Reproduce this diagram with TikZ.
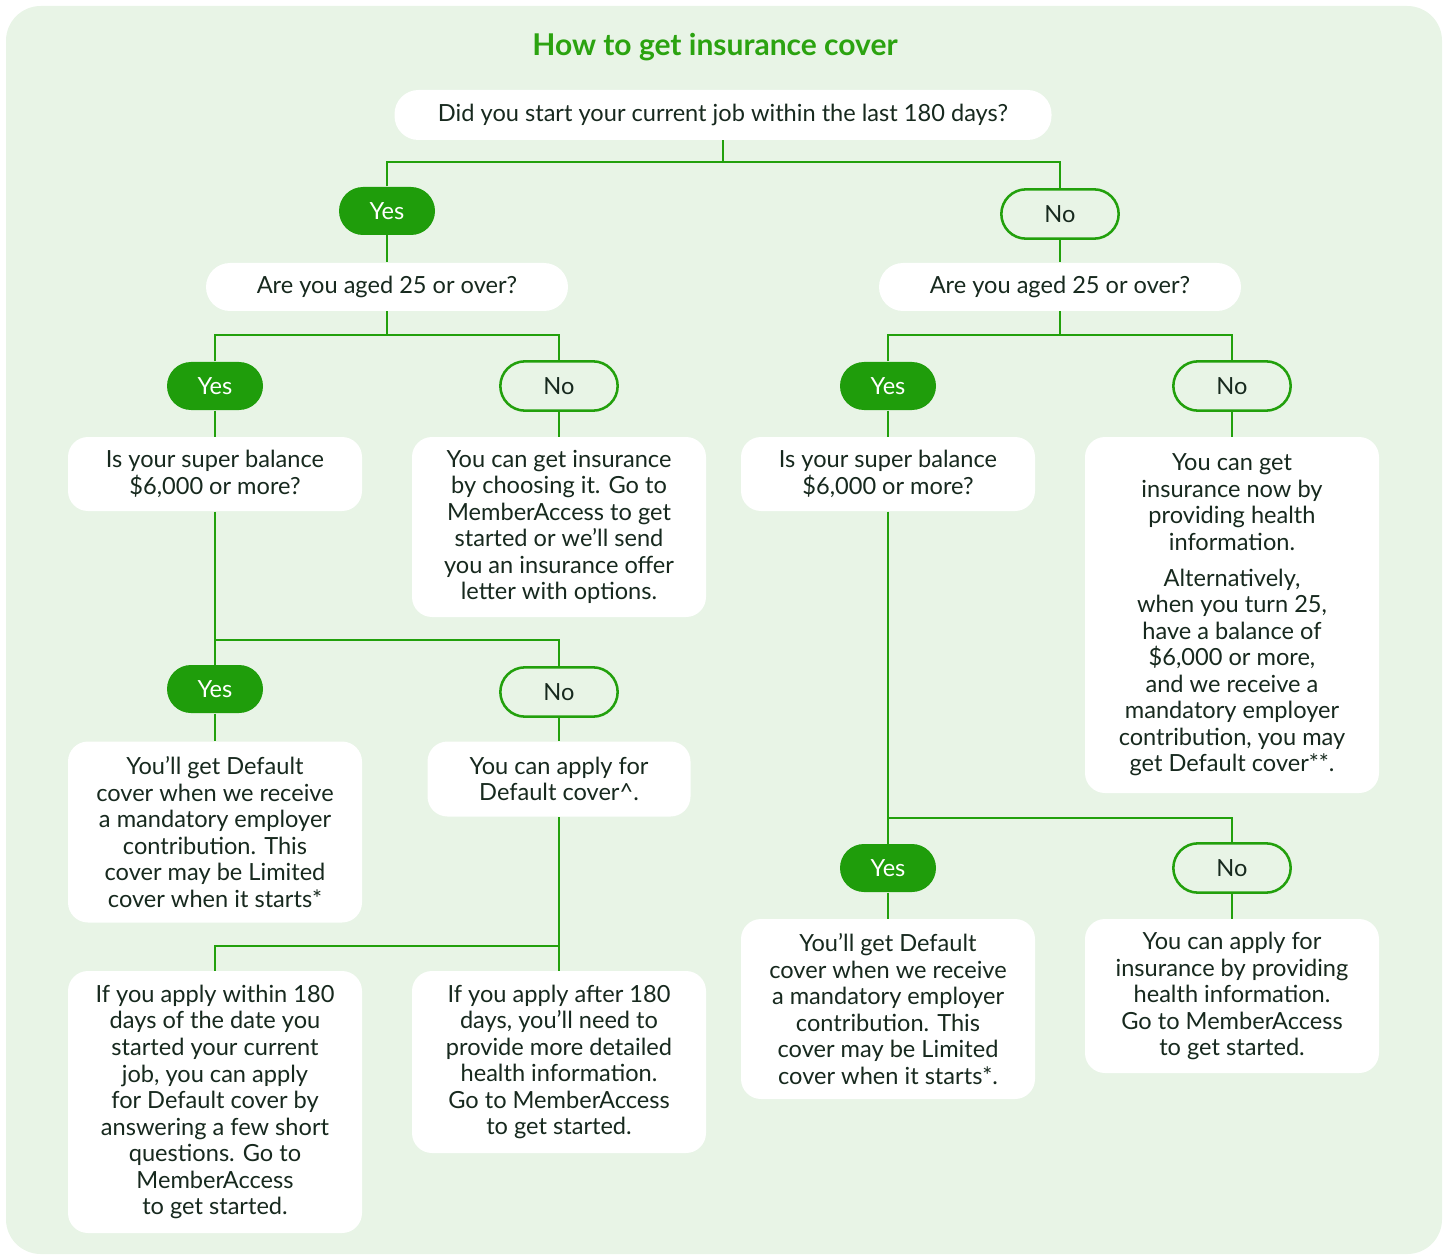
\documentclass[tikz,border=0pt]{standalone}
\usepackage{fontspec}
\setmainfont{Lato}
\definecolor{bggreen}{HTML}{E8F4E6}
\definecolor{linegreen}{HTML}{22A00C}
\definecolor{pillgreen}{HTML}{1F9D0B}
\definecolor{inkgreen}{HTML}{17291E}
\definecolor{titlegreen}{HTML}{2BA310}
\newcommand{\bodyfont}{\fontsize{17.7}{19.9}\selectfont}

\tikzset{every picture/.style={line width=0.75pt}}
\tikzset{
  card/.style={fill=white, rounded corners=15pt, align=center, inner sep=0pt, text=inkgreen, font=\bodyfont},
  askpill/.style={card, rounded corners=18pt, minimum height=36pt},
  yespill/.style={fill=pillgreen, text=white, rounded corners=18pt, minimum width=72pt, minimum height=36pt, inner sep=0pt, font=\bodyfont},
  nopill/.style={draw=linegreen, line width=1.9pt, fill=bggreen, text=inkgreen, rounded corners=18.5pt, minimum width=88pt, minimum height=37pt, inner sep=0pt, font=\bodyfont},
  link/.style={draw=linegreen, line width=1.7pt},
}

\begin{document}
\begin{tikzpicture}[x=0.75pt,y=0.75pt,yscale=-1,xscale=1]
\useasboundingbox (0,0) rectangle (1450,1255);

% background panel
\fill[bggreen, rounded corners=26pt] (6,6) rectangle (1442,1254);

% title
\node[font=\fontsize{22.5}{25}\selectfont\bfseries, text=titlegreen] (title) at (715,47) {How to get insurance cover};

% first question
\node[askpill, minimum width=492.75pt, minimum height=37.5pt] (q0) at (723,115) {Did you start your current job within the last 180 days?};
\node[yespill] (yes1) at (387,211) {Yes};
\node[nopill] (no1) at (1060,214) {No};

% age questions
\node[askpill, minimum width=271.5pt] (age1) at (387,287) {Are you aged 25 or over?};
\node[askpill, minimum width=271.5pt] (age2) at (1060,287) {Are you aged 25 or over?};

\node[yespill] (yes2) at (215,386) {Yes};
\node[nopill] (no2) at (559,386) {No};
\node[yespill] (yes4) at (888,386) {Yes};
\node[nopill] (no4) at (1232,386) {No};

% balance questions and under 25 answers
\node[card, minimum width=220.5pt, minimum height=55.5pt] (sup1) at (215,474) {Is your super balance\\\$6,000 or more?};
\node[card, minimum width=220.5pt, minimum height=135pt] (young1) at (559,527) {You can get insurance\\by choosing it. Go to\\MemberAccess to get\\started or we'll send\\you an insurance offer\\letter with options.};
\node[card, minimum width=220.5pt, minimum height=55.5pt] (sup2) at (888,474) {Is your super balance\\\$6,000 or more?};
\node[card, minimum width=220.5pt, minimum height=267pt] (young2) at (1232,615) {You can get\\insurance now by\\providing health\\information.\\[7pt]Alternatively,\\when you turn 25,\\have a balance of\\\$6,000 or more,\\and we receive a\\mandatory employer\\contribution, you may\\get Default cover**.};

\node[yespill] (yes3) at (215,689) {Yes};
\node[nopill] (no3) at (559,692) {No};
\node[yespill] (yes5) at (888,868) {Yes};
\node[nopill] (no5) at (1232,868) {No};

% outcomes
\node[card, minimum width=220.5pt, minimum height=135.75pt] (dflt1) at (215,832) {You'll get Default\\cover when we receive\\a mandatory employer\\contribution. This\\cover may be Limited\\cover when it starts*};
\node[card, minimum width=197.25pt, minimum height=56.25pt] (apply1) at (559,779) {You can apply for\\Default cover\textasciicircum.};
\node[card, minimum width=220.5pt, minimum height=196.5pt] (early1) at (215,1102) {If you apply within 180\\days of the date you\\started your current\\job, you can apply\\for Default cover by\\answering a few short\\questions. Go to\\MemberAccess\\to get started.};
\node[card, minimum width=220.5pt, minimum height=136.5pt] (late1) at (559,1062) {If you apply after 180\\days, you'll need to\\provide more detailed\\health information.\\Go to MemberAccess\\to get started.};
\node[card, minimum width=220.5pt, minimum height=135pt] (dflt2) at (888,1009) {You'll get Default\\cover when we receive\\a mandatory employer\\contribution. This\\cover may be Limited\\cover when it starts*.};
\node[card, minimum width=220.5pt, minimum height=115.5pt] (health2) at (1232,996) {You can apply for\\insurance by providing\\health information.\\Go to MemberAccess\\to get started.};

% junctions
\coordinate (j0) at (723,162);
\coordinate (j1) at (387,335);
\coordinate (j2) at (215,640);
\coordinate (j3) at (559,946);
\coordinate (j4) at (1060,335);
\coordinate (j5) at (888,818);

% connectors
\draw[link] (q0.south) -- (j0);
\draw[link] (yes1.north) |- (j0) -| (no1.north);
\draw[link] (yes1.south) -- (age1.north);
\draw[link] (no1.south) -- (age2.north);

\draw[link] (age1.south) -- (j1);
\draw[link] (yes2.north) |- (j1) -| (no2.north);
\draw[link] (yes2.south) -- (sup1.north);
\draw[link] (no2.south) -- (young1.north);
\draw[link] (sup1.south) -- (yes3.north);
\draw[link] (j2) -| (no3.north);
\draw[link] (yes3.south) -- (dflt1.north);
\draw[link] (no3.south) -- (apply1.north);
\draw[link] (apply1.south) -- (late1.north);
\draw[link] (j3) -| (early1.north);

\draw[link] (age2.south) -- (j4);
\draw[link] (yes4.north) |- (j4) -| (no4.north);
\draw[link] (yes4.south) -- (sup2.north);
\draw[link] (no4.south) -- (young2.north);
\draw[link] (sup2.south) -- (yes5.north);
\draw[link] (j5) -| (no5.north);
\draw[link] (yes5.south) -- (dflt2.north);
\draw[link] (no5.south) -- (health2.north);

\end{tikzpicture}
\end{document}
